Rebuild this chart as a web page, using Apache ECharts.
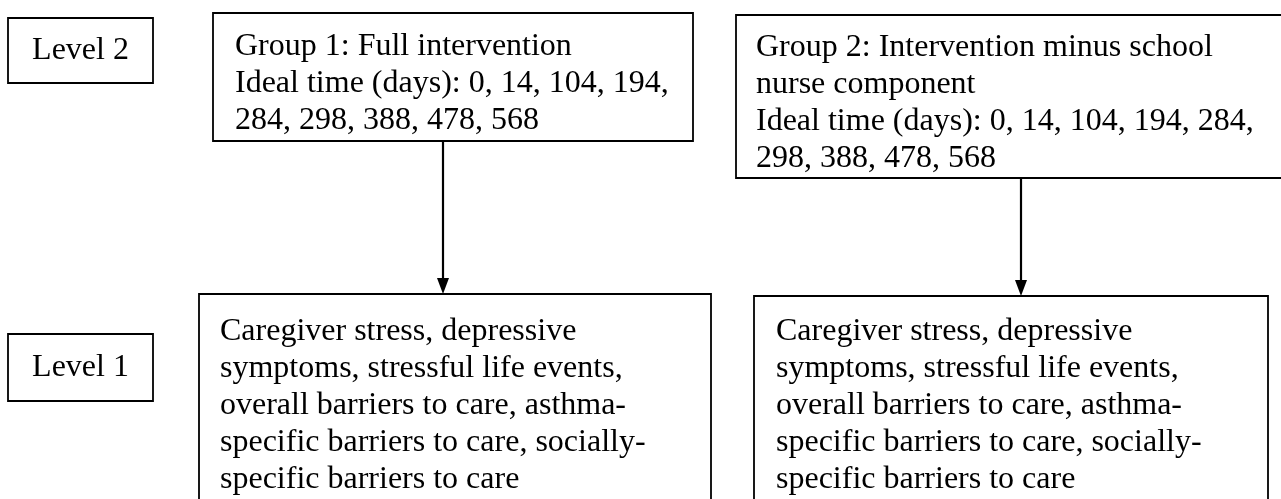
<!DOCTYPE html>
<html>
<head>
<meta charset="utf-8">
<script src="https://cdn.jsdelivr.net/npm/echarts@6/dist/echarts.min.js"></script>
<style>
html,body{margin:0;padding:0;background:#fff;}
#c{width:1281px;height:499px;}
</style>
</head>
<body>
<div id="c"></div>
<script>
// Content
const levelLabels = ['Level 2', 'Level 1'];
const group1Lines = ['Group 1: Full intervention', 'Ideal time (days): 0, 14, 104, 194,', '284, 298, 388, 478, 568'];
const group2Lines = ['Group 2: Intervention minus school', 'nurse component', 'Ideal time (days): 0, 14, 104, 194, 284,', '298, 388, 478, 568'];
const outcomeLines = ['Caregiver stress, depressive', 'symptoms, stressful life events,', 'overall barriers to care, asthma-', 'specific barriers to care, socially-', 'specific barriers to care'];

// Layout (pixels)
const FONT = '32px "Liberation Serif", "Times New Roman", serif';
const LH = 37;
const boxes = [
  {x0: 8, y0: 18, x1: 153, y1: 83, lines: [levelLabels[0]], center: true},
  {x0: 213, y0: 13, x1: 693, y1: 141, lines: group1Lines, tx: 235, ty: 28},
  {x0: 736, y0: 15, x1: 1290, y1: 178, lines: group2Lines, tx: 756, ty: 29},
  {x0: 8, y0: 334, x1: 153, y1: 401, lines: [levelLabels[1]], center: true},
  {x0: 199, y0: 294, x1: 711, y1: 520, lines: outcomeLines, tx: 220, ty: 313},
  {x0: 754, y0: 296, x1: 1268, y1: 520, lines: outcomeLines, tx: 776, ty: 313}
];
const arrows = [
  {x: 443, y0: 141, y1: 294},
  {x: 1021, y0: 178, y1: 296}
];

const elements = [];
boxes.forEach(b => {
  elements.push({
    type: 'rect',
    shape: {x: b.x0, y: b.y0, width: b.x1 - b.x0, height: b.y1 - b.y0},
    style: {fill: '#fff', stroke: '#000', lineWidth: 1.8}
  });
  if (b.center) {
    elements.push({
      type: 'text',
      style: {text: b.lines.join('\n'), x: (b.x0 + b.x1) / 2, y: (b.y0 + b.y1) / 2,
        font: FONT, fill: '#000', align: 'center', verticalAlign: 'middle'}
    });
  } else {
    elements.push({
      type: 'text',
      style: {text: b.lines.join('\n'), x: b.tx, y: b.ty, font: FONT, fill: '#000',
        align: 'left', verticalAlign: 'top', lineHeight: LH}
    });
  }
});
arrows.forEach(a => {
  elements.push({
    type: 'line',
    shape: {x1: a.x, y1: a.y0, x2: a.x, y2: a.y1 - 14},
    style: {stroke: '#000', lineWidth: 2.2}
  });
  elements.push({
    type: 'polygon',
    shape: {points: [[a.x - 6, a.y1 - 16], [a.x + 6, a.y1 - 16], [a.x, a.y1]]},
    style: {fill: '#000'}
  });
});

const chart = echarts.init(document.getElementById('c'), null, {renderer: 'canvas'});
chart.setOption({
  backgroundColor: '#fff',
  animation: false,
  graphic: {elements: elements}
});
</script>
</body>
</html>
